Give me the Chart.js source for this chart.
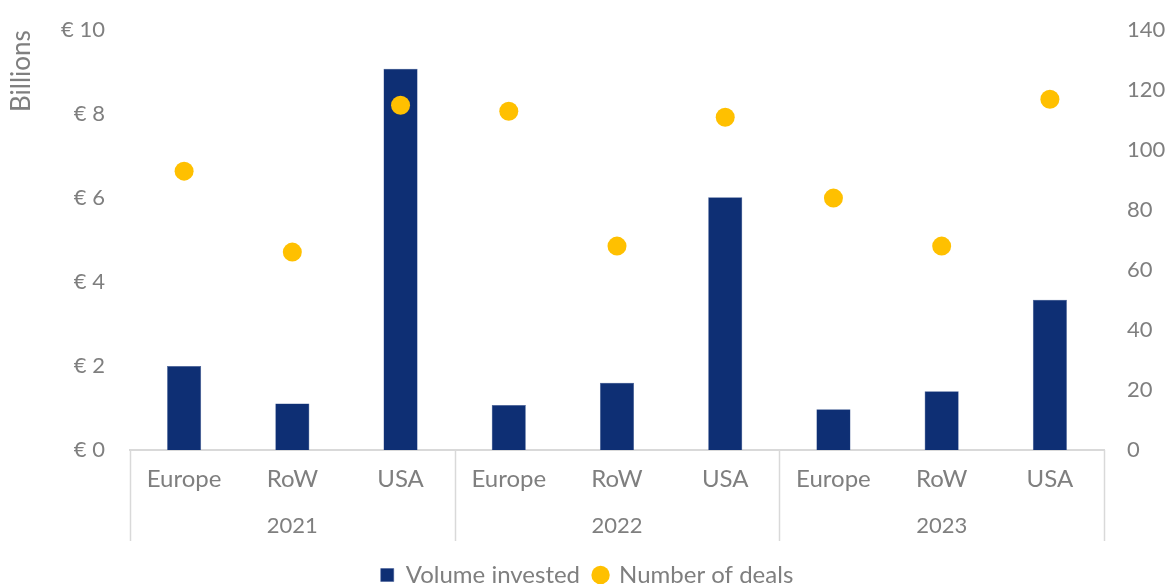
<!DOCTYPE html>
<html>
<head>
<meta charset="utf-8">
<script src="https://cdn.jsdelivr.net/npm/chart.js@4"></script>
<style>
  html, body { margin: 0; padding: 0; background: #fff; overflow: hidden; }
  #wrap { width: 1174px; height: 597px; }
</style>
</head>
<body>
<div id="wrap"><canvas id="chart"></canvas></div>
<script>
  const categories = ['Europe', 'RoW', 'USA', 'Europe', 'RoW', 'USA', 'Europe', 'RoW', 'USA'];
  const years = ['2021', '2022', '2023'];
  const volumeInvested = [2.0, 1.11, 9.08, 1.07, 1.6, 6.02, 0.97, 1.4, 3.58];
  const numberOfDeals = [93, 66, 115, 113, 68, 111, 84, 68, 117];

  const grey = '#7f7f7f';
  const lineGrey = '#d9d9d9';
  const font = { family: 'Lato', size: 22 };
  const bigFont = { family: 'Lato', size: 24 };

  // vertical separators between year groups, below the axis
  const groupLines = {
    id: 'groupLines',
    afterDraw(chart) {
      const x = chart.scales.x;
      const ctx = chart.ctx;
      const step = x.getPixelForValue(1) - x.getPixelForValue(0);
      const bottom = chart.chartArea.bottom;
      ctx.save();
      ctx.strokeStyle = lineGrey;
      ctx.lineWidth = 1.5;
      for (let i = 0; i <= categories.length; i += 3) {
        const px = Math.round(x.getPixelForValue(0) - step / 2 + i * step) + 0.5;
        ctx.beginPath();
        ctx.moveTo(px, bottom);
        ctx.lineTo(px, bottom + 91);
        ctx.stroke();
      }
      ctx.restore();
    }
  };

  new Chart(document.getElementById('chart'), {
    data: {
      labels: categories,
      datasets: [
        {
          type: 'bar',
          label: 'Volume invested',
          data: volumeInvested,
          backgroundColor: '#0e2f74',
          borderColor: '#3a5590',
          borderWidth: 0.5,
          categoryPercentage: 1,
          barPercentage: 0.315,
          yAxisID: 'y',
          pointStyle: 'rect',
          order: 2
        },
        {
          type: 'line',
          label: 'Number of deals',
          data: numberOfDeals,
          showLine: false,
          pointRadius: 9.5,
          pointHoverRadius: 9.5,
          pointBackgroundColor: '#ffc000',
          pointBorderWidth: 0,
          backgroundColor: '#ffc000',
          borderColor: '#ffc000',
          pointStyle: 'circle',
          yAxisID: 'y2',
          order: 1
        }
      ]
    },
    options: {
      responsive: true,
      maintainAspectRatio: false,
      animation: false,
      layout: { padding: { top: 13, left: 0, right: 0, bottom: 0 } },
      scales: {
        x: {
          position: 'bottom',
          weight: 0,
          offset: true,
          grid: { display: false },
          border: { display: true, color: lineGrey, width: 2 },
          ticks: { color: grey, font: bigFont, padding: 7, maxRotation: 0 },
          afterFit(scale) { scale.height = 53; }
        },
        x2: {
          type: 'category',
          position: 'bottom',
          weight: 1,
          labels: years,
          offset: true,
          grid: { display: false },
          border: { display: false },
          ticks: { color: grey, font: font, padding: 2, maxRotation: 0 },
          afterFit(scale) { scale.height = 46; }
        },
        y: {
          position: 'left',
          min: 0,
          max: 10,
          grid: { display: false },
          border: { display: false },
          ticks: {
            stepSize: 2,
            color: grey,
            font: font,
            padding: 17,
            callback: v => '€ ' + v
          },
          title: {
            display: true,
            text: 'Billions',
            align: 'end',
            color: grey,
            font: { family: 'Lato', size: 26 },
            padding: { top: 6, bottom: 0 }
          },
          afterFit(scale) { scale.width = 130; }
        },
        y2: {
          position: 'right',
          min: 0,
          max: 140,
          grid: { display: false },
          border: { display: false },
          ticks: { stepSize: 20, color: grey, font: font, padding: 15 },
          afterFit(scale) { scale.width = 70; }
        }
      },
      plugins: {
        legend: {
          position: 'bottom',
          reverse: true,
          labels: {
            usePointStyle: true,
            boxWidth: 13,
            boxHeight: 13,
            padding: 14,
            color: grey,
            font: bigFont
          }
        },
        tooltip: { enabled: false }
      }
    },
    plugins: [groupLines]
  });
</script>
</body>
</html>
